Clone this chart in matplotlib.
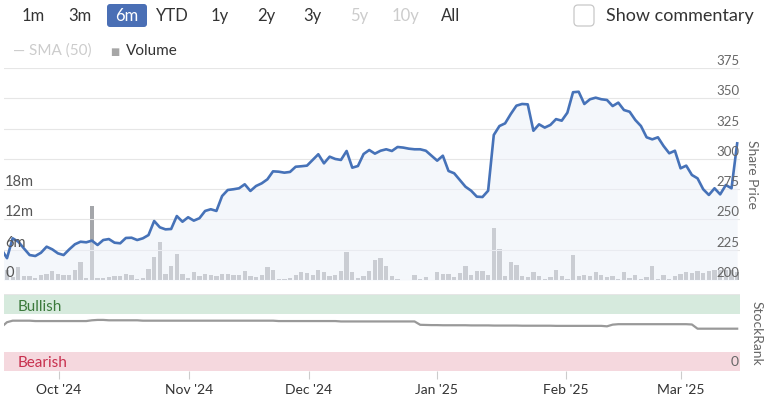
import numpy as np
import matplotlib
matplotlib.use('Agg')
import matplotlib.pyplot as plt
from matplotlib.patches import FancyBboxPatch
from matplotlib.transforms import offset_copy

plt.rcParams['font.family'] = ['Lato', 'DejaVu Sans']

# daily share price (one value per trading day, Sep '24 - Mar '25)
price = [225.5, 218, 234.4, 231.6, 226, 220.6, 219.8, 222.5, 227.5, 225.3,
         222, 220.6, 225.3, 229.5, 231.6, 231.1, 232.5, 228.9, 233, 233.8,
         230.8, 230.3, 234.7, 234.9, 233, 234.4, 237.1, 248.7, 243.5, 241.8,
         242.1, 252.8, 248.1, 251.8, 249, 251, 257, 258.4, 257, 269.3,
         274.3, 274.9, 275.7, 279, 273.5, 277.6, 279.8, 283.1, 289.7, 289.4,
         288.6, 289.2, 293.5, 293.9, 294.4, 299.1, 303.8, 296.3, 301.8, 299.9,
         299.1, 306.5, 292.7, 294.1, 304, 307.3, 304.3, 306.7, 307.9, 306.5,
         309.8, 309.3, 308.4, 307.9, 307.9, 306.7, 302.6, 298.5, 302.6, 290,
         288.1, 282.5, 277, 273.7, 268.8, 268.5, 273.7, 319.7, 327.1, 329.3,
         337, 343.9, 345.3, 345, 323.2, 328.5, 325.8, 328, 332.8, 331.5,
         338.1, 355, 355.4, 345.3, 349.2, 350.5, 349.2, 348.6, 343.6, 346.4,
         340.3, 338.9, 332.1, 327.1, 317.8, 316.1, 317.8, 310.6, 304.6, 306.7,
         292.2, 294.4, 286.7, 283.9, 274.9, 270.2, 275.7, 270.7, 278.4, 275.7,
         312.8]

# daily volume, millions
volume = [1.5, 2.0, 0.6, 2.56, 0.8, 0.8, 0.46, 1.0, 1.25, 1.77,
          1.1, 1.0, 1.0, 1.9, 3.5, 0.46, 14.6, 0.46, 0.46, 0.6,
          0.72, 0.72, 1.25, 1.0, 0.2, 0.46, 2.2, 4.5, 7.5, 1.25,
          2.75, 5.2, 1.25, 0.46, 1.57, 0.8, 1.25, 1.05, 0.8, 1.25,
          1.1, 1.05, 1.05, 1.77, 0.72, 0.52, 1.05, 2.56, 1.97, 0.26,
          0.2, 0.46, 1.0, 1.57, 1.38, 1.0, 1.97, 1.5, 0.85, 1.0,
          1.77, 5.5, 1.57, 0.46, 0.85, 1.77, 3.87, 4.4, 2.7, 0.72,
          0.26, 0, 0, 0.92, 0.26, 0.52, 0, 1.5, 1.25, 1.25,
          0.52, 1.3, 2.75, 1.0, 1.77, 1.77, 1.0, 10.4, 6.2, 0.8,
          3.5, 3.0, 0.8, 0.52, 1.57, 0.8, 0.26, 0.52, 1.97, 0.8,
          0.26, 4.9, 0.8, 1.0, 0.8, 1.57, 1.0, 0.52, 0.8, 0.1,
          1.57, 0.46, 1.0, 0.26, 0.52, 2.75, 0.26, 1.0, 0.26, 0.8,
          1.25, 1.57, 1.3, 1.77, 1.3, 1.77, 1.9, 1.9, 1.9, 2.0,
          1.5]

# StockRank (0-100)
rank = [57.5, 64, 66, 66, 66, 66, 65.5, 65.5, 65.5, 65.5,
        65.5, 65.5, 65.5, 65.5, 65.5, 65.5, 66.5, 67, 67, 66.5,
        66.5, 66.5, 66.5, 66.5, 66.5, 66, 66, 66, 66, 66,
        66, 66, 66, 66, 66, 66, 66, 66, 66, 66,
        66, 66, 66, 66, 66, 66, 66, 66, 66, 65.5,
        65.5, 65.5, 65.5, 65.5, 65.5, 65.5, 65.5, 65.5, 65.5, 65.5,
        65, 65, 65, 65, 65, 65, 65, 65, 65, 65,
        65, 65, 65, 65, 60.6, 60.4, 60.2, 60.2, 60, 60,
        60, 60, 60, 59.8, 59.8, 59.8, 59.8, 59.6, 59.6, 59.6,
        59.6, 59.6, 59.4, 59.4, 59.4, 59.4, 59.4, 59.4, 59.2, 59.2,
        59.2, 59.2, 59.2, 59.2, 59.2, 59.2, 59.2, 58.6, 60.8, 61.4,
        61.4, 61.4, 61.4, 61.4, 61.4, 61.4, 61.4, 61.4, 61.4, 61.4,
        61.4, 61.4, 61, 55.5, 55.5, 55.5, 55.5, 55.5, 55.5, 55.5,
        55.5]

price_ticks = [200, 225, 250, 275, 300, 325, 350, 375]
vol_ticks = [0, 6, 12, 18]
vol_labels = ['0', '6m', '12m', '18m']
month_labels = ["Oct '24", "Nov '24", "Dec '24", "Jan '25", "Feb '25", "Mar '25"]
month_pos = [10.13, 33.15, 54.35, 76.96, 99.75, 120.06]
buttons = ['1m', '3m', '6m', 'YTD', '1y', '2y', '3y', '5y', '10y', 'All']
button_x = [33, 80, 127, 172, 220, 266, 312, 359, 406, 451]

W, H = 769, 395
fig = plt.figure(figsize=(W / 100, H / 100), dpi=100)


def fx(x):
    return x / W


def fy(y):
    return 1 - y / H


idx = np.arange(len(price))
xmin, xmax = 0.47, 130.5

# price + volume panel
ax = fig.add_axes([fx(4), fy(280), (740 - 4) / W, (280 - 68) / H])
axv = ax.twinx()
ax.set_zorder(axv.get_zorder() + 1)
ax.patch.set_visible(False)

axv.bar(idx, volume, width=0.76, color='#a4a6aa', linewidth=0)
axv.set_ylim(0, 42)
ax.fill_between(idx, price, 200, color='#ecf0f9', alpha=0.53, lw=0, zorder=2)
ax.plot(idx, price, color='#4672b8', lw=1.9, zorder=3, solid_joinstyle='round')
for p in price_ticks:
    ax.axhline(p, color='#e6e6e6', lw=0.8, zorder=1)
ax.set_ylim(200, 375)
ax.set_xlim(xmin, xmax)
for a in (ax, axv):
    a.set_xticks([])
    a.set_yticks([])
    for s in a.spines.values():
        s.set_visible(False)

up = offset_copy(ax.get_yaxis_transform(), fig=fig, y=7, units='dots')
for p in price_ticks:
    ax.text(0.999, p, str(p), transform=up, ha='right', va='center',
            fontsize=9.5, color='#666666', zorder=5)
upv = offset_copy(axv.get_yaxis_transform(), fig=fig, y=8, units='dots')
for v, lab in zip(vol_ticks, vol_labels):
    ax.text(0.0015, v * 175 / 42 + 200, lab, transform=up, ha='left', va='center',
            fontsize=10.5, color='#555555', zorder=5)

fig.text(fx(752), fy(174), 'Share Price', rotation=270, ha='center', va='center',
         fontsize=10, color='#666666')

# StockRank panel
axr = fig.add_axes([fx(4), fy(371), (740 - 4) / W, (371 - 294) / H])
axr.axhspan(75, 100, color='#d6eadd', lw=0)
axr.axhspan(0, 25, color='#f5d8de', lw=0)
axr.plot(idx, rank, color='#999999', lw=1.6)
axr.set_ylim(0, 101)
axr.set_xlim(xmin, xmax)
axr.set_yticks([])
for s in axr.spines.values():
    s.set_visible(False)
axr.axhline(101, color='#e6e6e6', lw=0.8)
axr.set_xticks(month_pos)
axr.set_xticklabels(month_labels, fontsize=10, color='#333333')
axr.tick_params(axis='x', length=6, width=0.8, color='#cccccc', pad=3)

fig.text(fx(18), fy(307), 'Bullish', fontsize=11, color='#3c7a3c', va='center')
fig.text(fx(18), fy(363), 'Bearish', fontsize=11, color='#c8304e', va='center')
fig.text(fx(739), fy(362), '0', fontsize=10, color='#666666', ha='right', va='center')
fig.text(fx(757), fy(333), 'StockRank', rotation=270, ha='center', va='center',
         fontsize=10, color='#666666')

# range buttons
sel = FancyBboxPatch((107 / 100, (H - 27) / 100), 40 / 100, 23 / 100,
                     boxstyle='round,pad=0,rounding_size=0.03',
                     transform=fig.dpi_scale_trans, facecolor='#4a6fb5',
                     edgecolor='none')
fig.patches.append(sel)
for b, x in zip(buttons, button_x):
    if b == '6m':
        c = 'white'
    elif b in ('5y', '10y'):
        c = '#cccccc'
    else:
        c = '#333333'
    fig.text(fx(x), fy(16), b, ha='center', va='center', fontsize=12, color=c)

box = FancyBboxPatch((574 / 100, (H - 26) / 100), 20 / 100, 21 / 100,
                     boxstyle='round,pad=0,rounding_size=0.04',
                     transform=fig.dpi_scale_trans, facecolor='white',
                     edgecolor='#c8c8c8', lw=0.9)
fig.patches.append(box)
fig.text(fx(606), fy(16), 'Show commentary', ha='left', va='center',
         fontsize=13, color='#333333')

# legend
fig.text(fx(13), fy(51), '— SMA (50)', ha='left', va='center', fontsize=11,
         color='#cccccc')
fig.text(fx(110), fy(52), '■', ha='left', va='center', fontsize=7,
         color='#a6a6a6', family=['DejaVu Sans'])
fig.text(fx(126), fy(51), 'Volume', ha='left', va='center', fontsize=11,
         color='#333333')

fig.savefig('out.png', dpi=100)
